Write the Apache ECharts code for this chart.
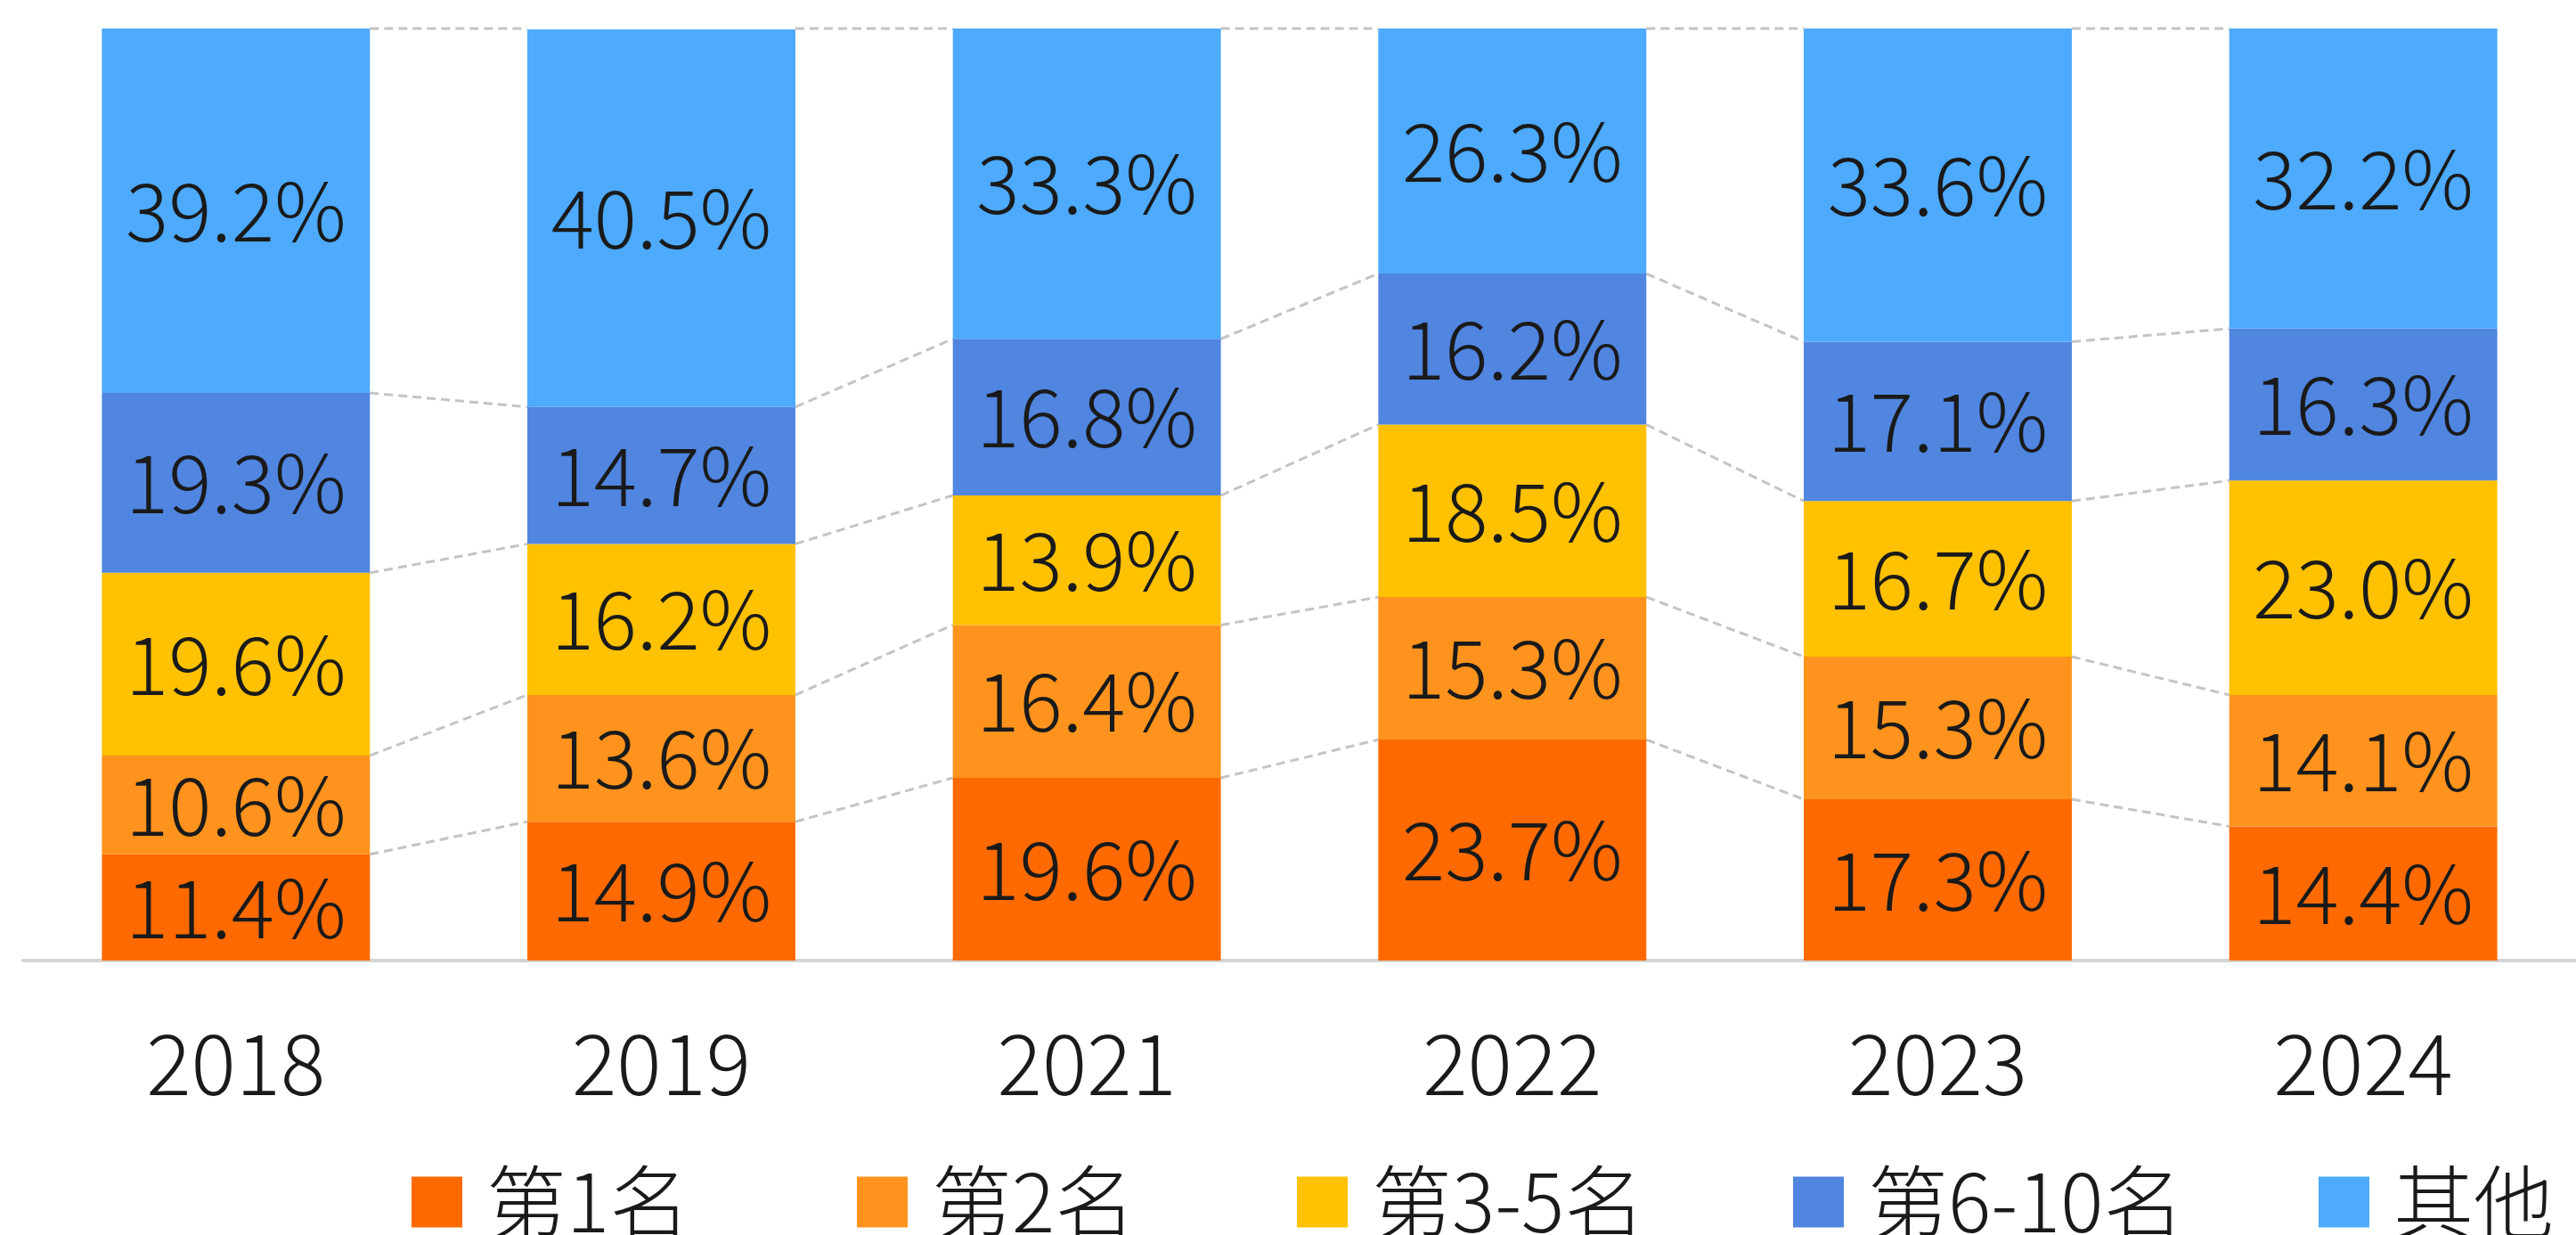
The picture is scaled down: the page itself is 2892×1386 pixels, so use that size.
<!DOCTYPE html>
<html>
<head>
<meta charset="utf-8">
<script src="https://cdn.jsdelivr.net/npm/echarts@6/dist/echarts.min.js"></script>
<style>
  html, body { margin: 0; padding: 0; background: #fff; }
  #chart { width: 2892px; height: 1386px; }
</style>
</head>
<body>
<div id="chart"></div>
<script>
// years on the x axis
const years = ['2018', '2019', '2021', '2022', '2023', '2024'];
const seriesNames = ['第1名', '第2名', '第3-5名', '第6-10名', '其他'];

// share of each rank group (%)
const rank1 = [11.4, 14.9, 19.6, 23.7, 17.3, 14.4];
const rank2 = [10.6, 13.6, 16.4, 15.3, 15.3, 14.1];
const rank3to5 = [19.6, 16.2, 13.9, 18.5, 16.7, 23.0];
const rank6to10 = [19.3, 14.7, 16.8, 16.2, 17.1, 16.3];
const others = [39.2, 40.5, 33.3, 26.3, 33.6, 32.2];

const colors = ['#ff6a00', '#ff931e', '#ffc100', '#5085e0', '#4daafd'];
const barRatio = 0.63;
// left edge of each legend entry
const legendLeft = [457, 957, 1451, 2008, 2598];

let myChart;
function drawChart(){
  let chartDom = document.getElementById('chart');
  if(myChart){
    myChart.dispose();
  }
  myChart = echarts.init(chartDom);

  let groups = [rank1, rank2, rank3to5, rank6to10, others];

  // running totals, one row per boundary between stacked segments
  let cum = [];
  let running = years.map(function(){ return 0; });
  groups.forEach(function(g){
    running = running.map(function(v, i){ return v + g[i]; });
    cum.push(running.slice());
  });
  // the top boundary is 100% for every year
  cum[cum.length - 1] = years.map(function(){ return 100; });

  let linkData = [];
  cum.forEach(function(row){
    for(let i = 0; i < years.length - 1; i++){
      linkData.push([i, row[i], row[i + 1]]);
    }
  });

  let font = '"Noto Sans CJK SC", "Liberation Sans", sans-serif';

  let series = groups.map(function(g, k){
    return {
      name: seriesNames[k],
      type: 'bar',
      stack: 'total',
      barWidth: (barRatio * 100) + '%',
      itemStyle: { color: colors[k] },
      label: {
        show: true,
        position: 'inside',
        fontSize: 90,
        fontFamily: font,
        fontWeight: 300,
        color: '#1a1a1a',
        formatter: function(p){
          return p.value.toFixed(1) + '%';
        }
      },
      data: g
    };
  });

  // dashed links between segment boundaries of neighbouring bars
  series.push({
    type: 'custom',
    silent: true,
    z: 1,
    encode: { x: 0, y: [1, 2] },
    renderItem: function(params, api){
      let i = api.value(0);
      let a = api.coord([i, api.value(1)]);
      let b = api.coord([i + 1, api.value(2)]);
      let half = api.size([1, 0])[0] * barRatio / 2;
      return {
        type: 'line',
        shape: { x1: a[0] + half, y1: a[1], x2: b[0] - half, y2: b[1] },
        style: {
          stroke: '#c4c4c4',
          lineWidth: 3,
          lineDash: [10, 6]
        }
      };
    },
    data: linkData
  });

  let legends = seriesNames.map(function(name, k){
    return {
      left: legendLeft[k],
      top: 1299,
      itemWidth: 57,
      itemHeight: 57,
      icon: 'rect',
      data: [name],
      textStyle: {
        fontSize: 90,
        lineHeight: 60,
        fontFamily: font,
        fontWeight: 300,
        color: '#1a1a1a',
        padding: [0, 0, 0, 22]
      }
    };
  });

  let options = {
    animation: false,
    color: colors,
    grid: {
      left: 26,
      width: 2885,
      top: 32,
      bottom: 308
    },
    legend: legends,
    xAxis: {
      type: 'category',
      data: years,
      axisLine: { lineStyle: { color: '#d4d4d4', width: 4 } },
      axisTick: { show: false },
      axisLabel: {
        margin: 68,
        fontSize: 94,
        fontFamily: font,
        fontWeight: 300,
        color: '#1a1a1a'
      }
    },
    yAxis: {
      type: 'value',
      min: 0,
      max: 100,
      show: false,
      splitLine: { show: false }
    },
    series: series
  };

  myChart.setOption(options);
}
drawChart();
</script>
</body>
</html>
